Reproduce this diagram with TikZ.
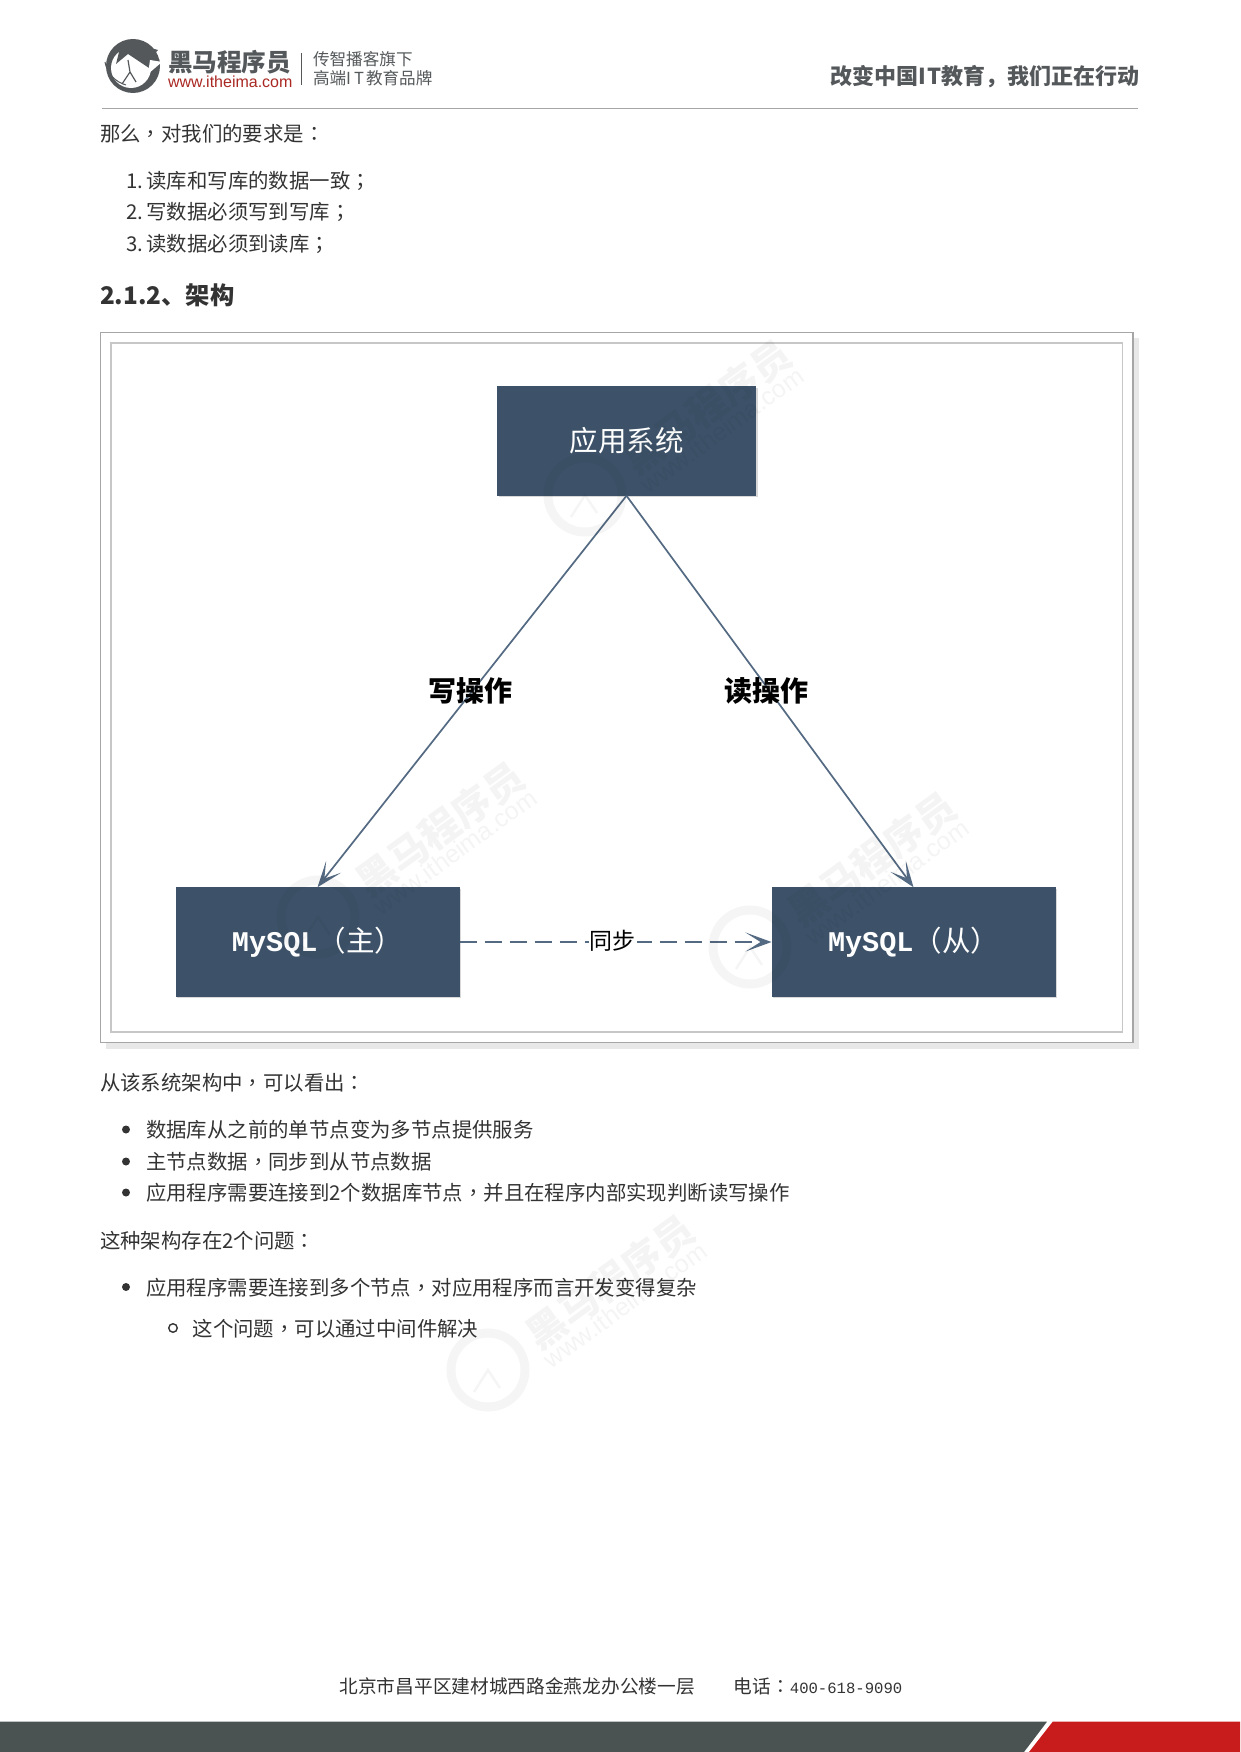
\documentclass[tikz,border=0pt]{standalone}
\usepackage{fontspec}
\setmainfont{Noto Sans CJK SC}
\newfontfamily\puncfont{Noto Sans CJK TC}
\newfontfamily\monofont{Liberation Mono}
\newfontfamily\urlfont{Liberation Sans}
\newcommand{\pc}[1]{{\puncfont #1}}
\usetikzlibrary{arrows.meta,positioning,shadows}
\definecolor{boxblue}{RGB}{61,82,105}
\definecolor{linkblue}{RGB}{84,106,130}
\definecolor{bodygray}{RGB}{51,51,51}
\definecolor{logogray}{RGB}{84,88,90}
\definecolor{logored}{RGB}{170,40,35}
\definecolor{bardark}{RGB}{74,82,82}
\definecolor{barred}{RGB}{200,27,27}

\begin{document}
\begin{tikzpicture}[
      x=1pt,y=-1pt,
      node distance=312pt,
      every node/.style={inner sep=0pt,outer sep=0pt},
      para/.style={anchor=west,text=bodygray,yshift=-0.5pt,font=\fontsize{20.4}{24}\selectfont},
      dbbox/.style={fill=boxblue,text=white,minimum height=109.5pt,
        drop shadow={shadow xshift=1.5pt,shadow yshift=-1.5pt,opacity=.3,fill=gray},
        font=\fontsize{28.5}{32}\selectfont},
      arrow/.style={-{Stealth[length=26pt,width=19pt,inset=15pt]},line width=1.7pt,draw=linkblue},
      oplabel/.style={font=\bfseries\fontsize{28}{32}\selectfont,text=black},
      dot/.style={circle,fill=bodygray,minimum size=8pt},
      hollowdot/.style={circle,draw=bodygray,line width=1.4pt,minimum size=8.5pt},
      wmtext/.style={text=black,opacity=.045,rotate=36,font=\bfseries\fontsize{39}{42}\selectfont},
      wmurl/.style={text=black,opacity=.045,rotate=36,font=\urlfont\fontsize{25}{28}\selectfont}
    ]
      \useasboundingbox (0,0) rectangle (1240,1752);

      % page header
      \fill[logogray] (133,66) circle (27);
      \fill[white] (131,68) circle (20);
      \fill[logogray] (116,64) -- (120,48) -- (136,44) -- (158,50) -- (152,57) -- (160,60) -- (151,66) -- (155,72) -- (143,64) -- (128,54) -- cycle;
      \fill[white] (162,62) -- (148,74) -- (150,60) -- cycle;
      \draw[logogray,line width=1pt] (105,62) arc (170:105:29);
      \draw[logogray,line width=1.2pt] (122,84) -- (130,72) -- (128,60) (130,72) -- (136,82);
      \node[anchor=west,text=logogray,font=\bfseries\fontsize{24.6}{26}\selectfont] (brand) at (168,62) {黑马程序员};
      \node[anchor=west,text=logored,font=\urlfont\fontsize{16}{18}\selectfont] (brandurl) at (168,82) {www.itheima.com};
      \coordinate (divtop) at (301.5,53);
      \coordinate (divbot) at (301.5,85);
      \draw[logogray,line width=.9pt] (divtop) -- (divbot);
      \node[anchor=west,text=logogray,font=\fontsize{16.6}{18}\selectfont] (slogana) at (313,59) {传智播客旗下};
      \node[anchor=west,text=logogray,font=\fontsize{16.6}{18}\selectfont] (sloganb) at (313,78) {高端I\hspace{3pt}T\hspace{2pt}教育品牌};
      \node[anchor=east,text=logogray,font=\bfseries\fontsize{22}{24}\selectfont] (motto) at (1139.5,77) {改变中国I\hspace{1pt}T教育，我们正在行动};
      \coordinate (rulel) at (102,108.5);
      \coordinate (ruler) at (1138,108.5);
      \draw[black!35,line width=1.2pt] (rulel) -- (ruler);

      % text above the figure
      \node[para] (intro) at (100,133) {那么\pc{，}对我们的要求是\pc{：}};
      \node[para] (numa) at (126,180) {1.\hspace{3.5pt}读库和写库的数据一致\pc{；}};
      \node[para] (numb) at (126,211) {2.\hspace{3.5pt}写数据必须写到写库\pc{；}};
      \node[para] (numc) at (126,243) {3.\hspace{3.5pt}读数据必须到读库\pc{；}};
      \node[para,yshift=0.5pt,font=\bfseries\fontsize{24.3}{28}\selectfont] (heading) at (100,295) {2.1.2、架构};

      % figure frame
      \fill[black!9] (106,338) rectangle (1139,1049);
      \fill[white] (100.5,332.5) rectangle (1133,1042.5);
      \draw[black!35,line width=1.2pt] (100.5,332.5) rectangle (1133,1042.5);
      \draw[black!22,line width=1.6pt] (110.7,342.7) rectangle (1122.5,1032);

      \node[dbbox,minimum width=259pt] (app) at (626.5,441) {应用系统};
      \node[dbbox,minimum width=284pt] (master) at (317.5,942) {{\monofont\bfseries MySQL}（主）};
      \node[dbbox,minimum width=284pt,right=of master] (slave) {{\monofont\bfseries MySQL}（从）};

      \draw[arrow] (app.south) -- (master.north);
      \draw[arrow] (app.south) -- (slave.north);
      \draw[arrow,dash pattern=on 17pt off 8pt] (master.east) -- (slave.west);

      \node[oplabel] (write) at (470,691) {写操作};
      \node[oplabel] (read) at (766,691) {读操作};
      \node[fill=white,inner xsep=1pt,text=black,font=\fontsize{23}{26}\selectfont] (sync) at (612.5,941) {同步};

      % text below the figure
      \node[para] (after) at (100,1082.5) {从该系统架构中\pc{，}可以看出\pc{：}};
      \node[dot] (dota) at (126,1129.5) {};
      \node[para,right=16pt of dota] (itema) {数据库从之前的单节点变为多节点提供服务};
      \node[dot] (dotb) at (126,1161.5) {};
      \node[para,right=16pt of dotb] (itemb) {主节点数据\pc{，}同步到从节点数据};
      \node[dot] (dotc) at (126,1192.5) {};
      \node[para,right=16pt of dotc] (itemc) {应用程序需要连接到2个数据库节点\pc{，}并且在程序内部实现判断读写操作};
      \node[para] (issues) at (100,1240) {这种架构存在2个问题\pc{：}};
      \node[dot] (dotd) at (126,1287) {};
      \node[para,right=16pt of dotd] (itemd) {应用程序需要连接到多个节点\pc{，}对应用程序而言开发变得复杂};
      \node[hollowdot] (subdot) at (173,1328) {};
      \node[para,right=15.5pt of subdot] (subitem) {这个问题\pc{，}可以通过中间件解决};

      % watermarks
      \foreach \wx/\wy/\wn in {585/495/a,318/917/b,750/947/c,488/1370/d}{
        \draw[black,opacity=.04,line width=9pt] (\wx,\wy) circle (37);
        \draw[black,opacity=.04,line width=2.5pt] (\wx-14,\wy+22) -- (\wx,\wy) -- (\wx+12,\wy+18);
        \node[wmtext] (wmname\wn) at (\wx+122,\wy-88) {黑马程序员};
        \node[wmurl] (wmurl\wn) at (\wx+137,\wy-65) {www.itheima.com};
      }

      % page footer
      \node[anchor=west,text=bodygray,font=\fontsize{18.7}{22}\selectfont] (address) at (339.5,1686) {北京市昌平区建材城西路金燕龙办公楼一层\hspace{39pt}电话\pc{：}{\monofont\fontsize{15.6}{22}\selectfont 400-618-9090}};
      \fill[bardark] (0,1721.7) -- (1047,1721.7) -- (1024,1752) -- (0,1752) -- cycle;
      \fill[barred] (1052.7,1721.7) -- (1240,1721.7) -- (1240,1752) -- (1029,1752) -- cycle;
    \end{tikzpicture}
\end{document}
